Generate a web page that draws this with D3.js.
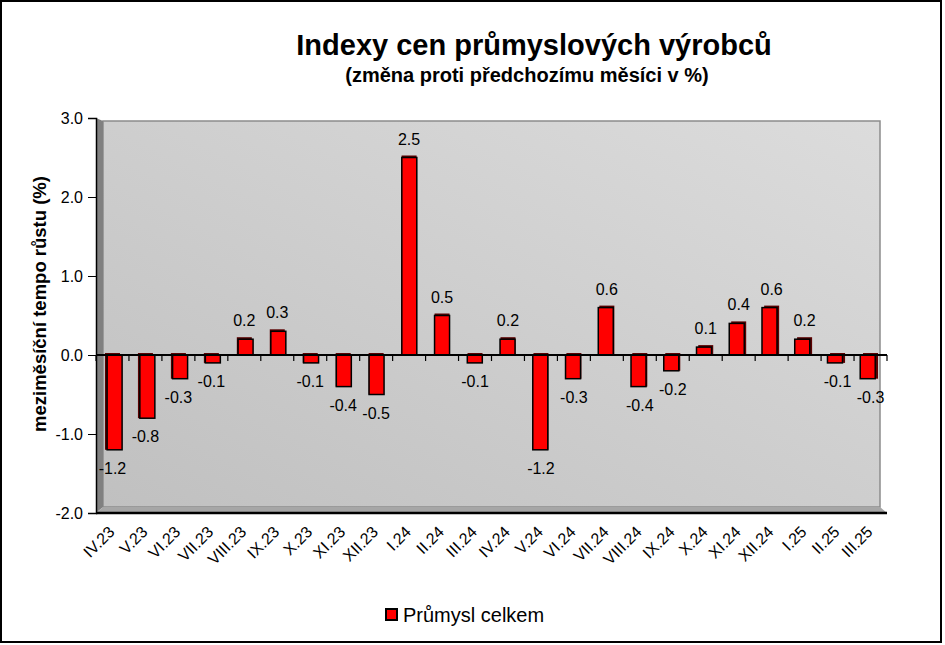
<!DOCTYPE html>
<html>
<head>
<meta charset="utf-8">
<script src="https://d3js.org/d3.v7.min.js"></script>
<style>
  body { margin: 0; background: #fff; }
  svg { display: block; font-family: "Liberation Sans", Arial, sans-serif; }
</style>
</head>
<body>
<svg width="945" height="645"></svg>
<script>
// data
var months = ["IV.23","V.23","VI.23","VII.23","VIII.23","IX.23","X.23","XI.23","XII.23",
              "I.24","II.24","III.24","IV.24","V.24","VI.24","VII.24","VIII.24","IX.24",
              "X.24","XI.24","XII.24","I.25","II.25","III.25"];
var prumysl = [-1.2,-0.8,-0.3,-0.1,0.2,0.3,-0.1,-0.4,-0.5,
               2.5,0.5,-0.1,0.2,-1.2,-0.3,0.6,-0.4,-0.2,
               0.1,0.4,0.6,0.2,-0.1,-0.3];
var yTicks = [-2,-1,0,1,2,3];
var seriesName = "Průmysl celkem";

var svg = d3.select("svg");

// number format with a plain hyphen like the original
function fmt(v) { return v.toFixed(1); }

// outer frame
svg.append("rect")
    .attr("x", 1).attr("y", 1)
    .attr("width", 940).attr("height", 641)
    .attr("fill", "#fff")
    .attr("stroke", "#000")
    .attr("stroke-width", 2);

// titles
svg.append("text")
    .attr("x", 534).attr("y", 55)
    .attr("text-anchor", "middle")
    .attr("font-weight", "bold")
    .attr("font-size", 29)
    .text("Indexy cen průmyslových výrobců");

svg.append("text")
    .attr("x", 527).attr("y", 82)
    .attr("text-anchor", "middle")
    .attr("font-weight", "bold")
    .attr("font-size", 20)
    .text("(změna proti předchozímu měsíci v %)");

// scales
var x0 = 96, x1 = 887, depth = 7;
var x = d3.scaleBand().domain(months).range([x0, x1]).padding(0);
var y = d3.scaleLinear().domain([-2, 3]).range([513, 118]);

// background gradient of the back wall
var defs = svg.append("defs");
var grad = defs.append("linearGradient")
    .attr("id", "wall")
    .attr("x1", "0%").attr("y1", "100%")
    .attr("x2", "100%").attr("y2", "0%");
grad.append("stop").attr("offset", "0%").attr("stop-color", "#c0c0c0");
grad.append("stop").attr("offset", "100%").attr("stop-color", "#dcdcdc");

var yTop = y(3), yBottom = y(-2);

// back wall
svg.append("rect")
    .attr("x", x0 + depth).attr("y", yTop + 3)
    .attr("width", x1 - depth - (x0 + depth)).attr("height", yBottom - depth + 1 - (yTop + 3))
    .attr("fill", "url(#wall)")
    .attr("stroke", "#8c8c8c")
    .attr("stroke-width", 1.5);

// left side wall
svg.append("polygon")
    .attr("points", [[x0, yTop], [x0 + depth, yTop + 3], [x0 + depth, yBottom - depth + 1], [x0, yBottom]].join(" "))
    .attr("fill", "#808080");

// floor
svg.append("polygon")
    .attr("points", [[x0, yBottom], [x0 + depth, yBottom - depth + 1], [x1 - depth, yBottom - depth + 1], [x1, yBottom]].join(" "))
    .attr("fill", "#a6a6a6");

svg.append("line")
    .attr("x1", x0).attr("x2", x1)
    .attr("y1", yBottom).attr("y2", yBottom)
    .attr("stroke", "#000").attr("stroke-width", 2.5);

// y axis
var yAxis = svg.append("g")
    .attr("transform", "translate(" + x0 + ",0)")
    .call(d3.axisLeft(y).tickValues(yTicks).tickFormat(fmt).tickSize(8).tickPadding(5));
yAxis.select(".domain").attr("stroke", "#000").attr("stroke-width", 1.5);
yAxis.selectAll("text").attr("font-size", 16).attr("font-family", "Liberation Sans, Arial, sans-serif").attr("fill", "#000");

svg.append("text")
    .attr("transform", "translate(46," + 304 + ") rotate(-90)")
    .attr("text-anchor", "middle")
    .attr("font-weight", "bold")
    .attr("font-size", 18.5)
    .text("meziměsíční tempo růstu (%)");

// bars (small perspective shift to mimic the 3D look)
var barW = 15;
function shift(d) {
    var cx = x(d.m) + x.bandwidth() / 2;
    return (cx - 440) * -0.0065;
}
var data = months.map(function(m, i) { return {m: m, v: prumysl[i]}; });

var bars = svg.append("g").selectAll("g")
    .data(data)
    .enter().append("g");

bars.append("rect")
    .attr("x", function(d) { return x(d.m) + x.bandwidth() / 2 - barW / 2; })
    .attr("y", function(d) { return y(Math.max(0, d.v)) - 2; })
    .attr("width", barW)
    .attr("height", function(d) { return Math.abs(y(d.v) - y(0)) + 2; })
    .attr("fill", "#5a0000");

bars.append("rect")
    .attr("x", function(d) { return x(d.m) + x.bandwidth() / 2 - barW / 2 + shift(d); })
    .attr("y", function(d) { return y(Math.max(0, d.v)); })
    .attr("width", barW)
    .attr("height", function(d) { return Math.abs(y(d.v) - y(0)); })
    .attr("fill", "#ff0000")
    .attr("stroke", "#000")
    .attr("stroke-width", 1.5);

// zero line with category ticks
svg.append("line")
    .attr("x1", x0).attr("x2", x1)
    .attr("y1", y(0)).attr("y2", y(0))
    .attr("stroke", "#000").attr("stroke-width", 2);

svg.append("g").selectAll("line")
    .data(months.concat(["end"]))
    .enter().append("line")
    .attr("x1", function(d, i) { return x0 + i * x.step(); })
    .attr("x2", function(d, i) { return x0 + i * x.step(); })
    .attr("y1", y(0)).attr("y2", y(0) + 6)
    .attr("stroke", "#000").attr("stroke-width", 1.2);

// value labels
bars.append("text")
    .attr("x", function(d) { return x(d.m) + x.bandwidth() / 2; })
    .attr("y", function(d) { return d.v >= 0 ? y(d.v) - 13 : y(d.v) + 24; })
    .attr("text-anchor", "middle")
    .attr("font-size", 16)
    .text(function(d) { return fmt(d.v); });

// category labels
svg.append("g").selectAll("text")
    .data(months)
    .enter().append("text")
    .attr("transform", function(d) {
        return "translate(" + (x(d) + x.bandwidth() / 2 + 3) + ",533) rotate(-45)";
    })
    .attr("text-anchor", "end")
    .attr("font-size", 16)
    .text(function(d) { return d; });

// legend
var legend = svg.append("g").attr("transform", "translate(386,609)");
legend.append("rect")
    .attr("width", 11).attr("height", 11)
    .attr("fill", "#ff0000")
    .attr("stroke", "#000")
    .attr("stroke-width", 2);
legend.append("text")
    .attr("x", 17).attr("y", 13)
    .attr("font-size", 20)
    .text(seriesName);
</script>
</body>
</html>
